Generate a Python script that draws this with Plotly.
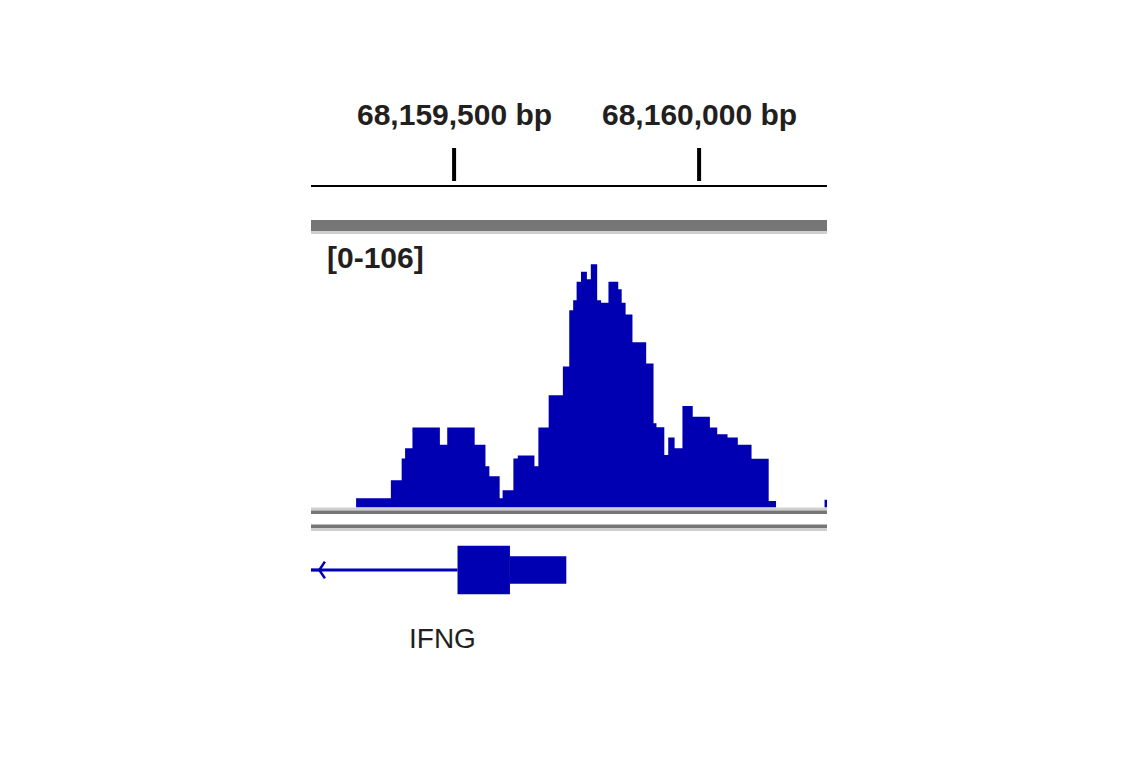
import plotly.graph_objects as go

# ---------------- data ----------------
view_start = 68159208
view_end = 68160261

ruler_ticks = [68159500, 68160000]
ruler_labels = ["68,159,500 bp", "68,160,000 bp"]

data_range_label = "[0-106]"
data_max = 106

cov_starts = [68159300, 68159371, 68159393, 68159400, 68159415, 68159471, 68159486,
              68159542, 68159564, 68159572, 68159593, 68159599, 68159621, 68159630,
              68159664, 68159672, 68159693, 68159722, 68159735, 68159743, 68159750,
              68159759, 68159771, 68159779, 68159792, 68159800, 68159815, 68159835,
              68159842, 68159850, 68159864, 68159892, 68159907, 68159913, 68159929,
              68159937, 68159950, 68159966, 68159987, 68160022, 68160037, 68160058,
              68160079, 68160107, 68160142, 68160256]
cov_ends = [68159371, 68159393, 68159400, 68159415, 68159471, 68159486, 68159542,
            68159564, 68159572, 68159593, 68159599, 68159621, 68159630, 68159664,
            68159672, 68159693, 68159722, 68159735, 68159743, 68159750, 68159759,
            68159771, 68159779, 68159792, 68159800, 68159815, 68159835, 68159842,
            68159850, 68159864, 68159892, 68159907, 68159913, 68159929, 68159937,
            68159950, 68159966, 68159987, 68160022, 68160037, 68160058, 68160079,
            68160107, 68160142, 68160157, 68160280]
cov_values = [3.6, 10.6, 19, 23, 31, 24.3, 31,
              24.3, 16, 12.1, 3.6, 6.7, 19, 20.2,
              16, 31, 43.5, 54.6, 76.4, 80.3, 87.5,
              91.4, 88.5, 94.3, 80.3, 79.4, 87.5, 84.6,
              79.4, 74.8, 64, 55.8, 32.7, 31.1, 20.3,
              27.1, 23, 39.3, 35.2, 31, 28.4, 27.1,
              24.3, 18.9, 2.5, 3.0]

gene_name = "IFNG"
gene_start = 68158000          # extends beyond left edge (minus strand)
gene_cds = [68159507, 68159614]
gene_utr = [68159614, 68159729]
strand_arrows = [68159225]

# ---------------- styling helpers ----------------
W, H = 1141, 768
OFF = 8  # page body margin
def px(x):
    return (x - OFF) / W
def py(y):
    return 1 - (y - OFF) / H

BLUE = "rgb(0,0,178)"
TXT = "#231f20"
FONT = "Liberation Sans, Arial, sans-serif"

x_dom = [px(311), px(827)]

# ---------------- coverage step path ----------------
xs, ys = [], []
prev_end = None
for s, e, v in zip(cov_starts, cov_ends, cov_values):
    if prev_end is None:
        xs += [s]; ys += [0]
    elif s > prev_end:
        xs += [prev_end]; ys += [0]
    xs += [s]; ys += [v]
    prev_end = e
xs += [prev_end]; ys += [0]

fig = go.Figure()

fig.add_trace(go.Scatter(
    x=xs, y=ys, mode="lines", line=dict(shape="hv", width=0, color=BLUE),
    fill="tozeroy", fillcolor=BLUE, hoverinfo="skip", showlegend=False,
    xaxis="x", yaxis="y"))

# gene: intron line
fig.add_trace(go.Scatter(
    x=[gene_start, gene_cds[0]], y=[0, 0], mode="lines",
    line=dict(color=BLUE, width=3), hoverinfo="skip", showlegend=False,
    xaxis="x", yaxis="y2"))
# strand chevrons
fig.add_trace(go.Scatter(
    x=strand_arrows, y=[0] * len(strand_arrows), mode="markers",
    marker=dict(symbol="y-left-open", size=14, color=BLUE,
                line=dict(color=BLUE, width=2.5)),
    hoverinfo="skip", showlegend=False, xaxis="x", yaxis="y2"))
# exons
for (a, b), h in [(gene_cds, 0.81), (gene_utr, 0.46)]:
    fig.add_trace(go.Scatter(
        x=[a, b, b, a, a], y=[-h, -h, h, h, -h], mode="lines",
        fill="toself", fillcolor=BLUE, line=dict(width=0, color=BLUE),
        hoverinfo="skip", showlegend=False, xaxis="x", yaxis="y2"))

# ---------------- ruler ----------------
shapes = []
shapes.append(dict(type="line", xref="paper", yref="paper",
                   x0=px(311), x1=px(827), y0=py(186), y1=py(186),
                   line=dict(color="black", width=2)))
for t in ruler_ticks:
    shapes.append(dict(type="line", xref="x", yref="paper",
                       x0=t, x1=t, y0=py(148), y1=py(181),
                       line=dict(color="black", width=4)))

# gray track separators
def band(y0, y1, color):
    shapes.append(dict(type="rect", xref="paper", yref="paper",
                       x0=px(311), x1=px(827), y0=py(y1), y1=py(y0),
                       fillcolor=color, line=dict(width=0), layer="below"))
band(220, 231, "#767676")
band(231, 234, "#cfcfcf")
band(507.5, 510.5, "#cfcfcf")
band(510.5, 514, "#767676")
band(524.5, 528, "#767676")
band(528, 531, "#cfcfcf")

annotations = []
for t, lab in zip(ruler_ticks, ruler_labels):
    annotations.append(dict(x=t, xref="x", y=py(114), yref="paper",
                            text=lab, showarrow=False, xanchor="center",
                            yanchor="middle",
                            font=dict(family=FONT, size=30, color=TXT,
                                      weight="bold")))
annotations.append(dict(x=px(325), xref="paper", y=py(257), yref="paper",
                        text=data_range_label, showarrow=False,
                        xanchor="left", yanchor="middle",
                        font=dict(family=FONT, size=30, color=TXT,
                                  weight="bold")))
label_x = (view_start + gene_utr[1]) / 2
annotations.append(dict(x=label_x, xref="x", y=py(638), yref="paper",
                        text=gene_name, showarrow=False, xanchor="center",
                        yanchor="middle", xshift=4,
                        font=dict(family=FONT, size=28, color=TXT)))

fig.update_layout(
    width=W, height=H,
    margin=dict(l=0, r=0, t=0, b=0),
    paper_bgcolor="white", plot_bgcolor="rgba(0,0,0,0)",
    showlegend=False,
    xaxis=dict(domain=x_dom, range=[view_start, view_end], visible=False,
               fixedrange=True),
    yaxis=dict(domain=[py(507.5), py(234)], range=[0, data_max],
               visible=False, fixedrange=True),
    yaxis2=dict(domain=[py(600), py(540)], range=[-1, 1], visible=False,
                fixedrange=True),
    shapes=shapes,
    annotations=annotations,
)

fig.write_html("out.html")
